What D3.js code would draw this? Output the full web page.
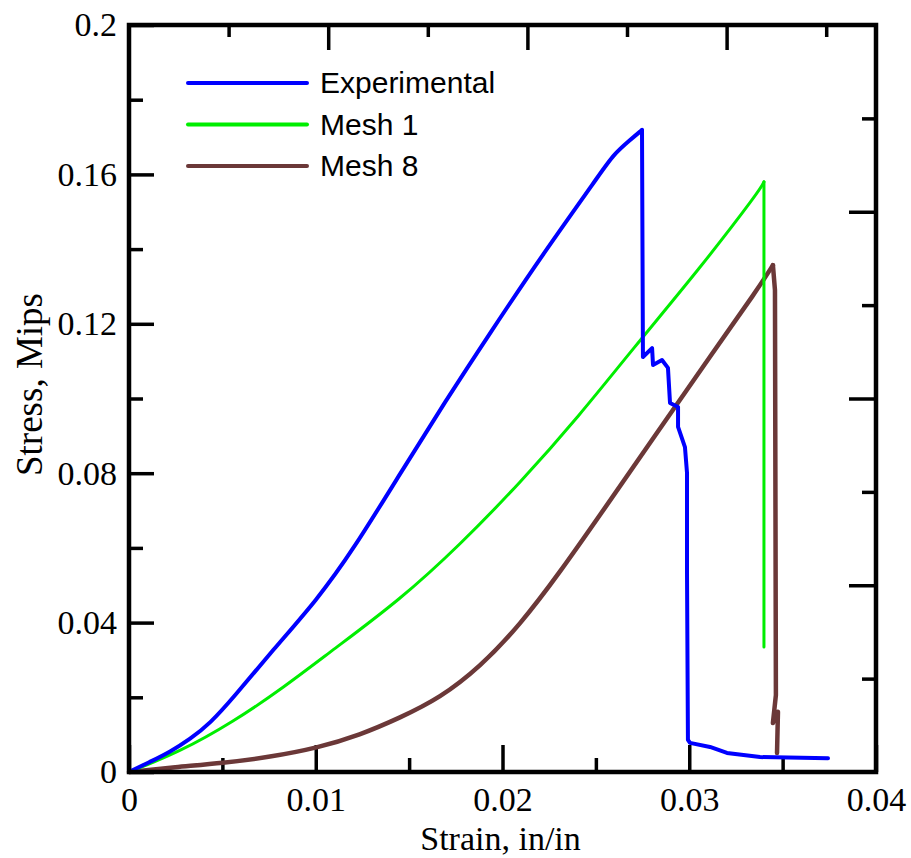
<!DOCTYPE html>
<html>
<head>
<meta charset="utf-8">
<script src="https://cdn.jsdelivr.net/npm/d3@7/dist/d3.min.js"></script>
<style>
  html, body { margin: 0; padding: 0; background: #fff; }
  svg { display: block; }
</style>
</head>
<body>
<svg id="chart" width="911" height="858"></svg>
<script>
// Stress-strain curves: strain (in/in) vs stress (Mips)
const expStrain = [0, 0.00112, 0.00220, 0.00327, 0.00434, 0.00557, 0.00771, 0.01007, 0.01199, 0.01451,
  0.01692, 0.01933, 0.02201, 0.02522, 0.02592, 0.02683, 0.02747, 0.02752, 0.02801, 0.02806, 0.02854,
  0.02886, 0.02897, 0.02940, 0.02940, 0.02977, 0.02988, 0.02988, 0.02993, 0.03004, 0.03111, 0.03202,
  0.03379, 0.03743];
const expStress = [0, 0.0027, 0.0054, 0.0088, 0.0130, 0.0198, 0.0327, 0.0461, 0.0594, 0.0798,
  0.0991, 0.1175, 0.1376, 0.1601, 0.1652, 0.1692, 0.1719, 0.1111, 0.1135, 0.1090, 0.1103,
  0.1082, 0.0988, 0.0977, 0.0924, 0.0870, 0.0801, 0.0533, 0.0086, 0.0078, 0.0067, 0.0051,
  0.0040, 0.0037];

const mesh1Strain = [0, 0.00273, 0.00557, 0.00825, 0.01092, 0.01451, 0.01772, 0.02094, 0.02415,
  0.02693, 0.03058, 0.03379, 0.03400, 0.03400];
const mesh1Stress = [0, 0.0054, 0.0134, 0.0225, 0.0327, 0.0461, 0.0608, 0.0774, 0.0956,
  0.1130, 0.1349, 0.1558, 0.1580, 0.0335];

const mesh8Strain = [0, 0.00246, 0.00503, 0.00755, 0.01007, 0.01237, 0.01451, 0.01665, 0.01880,
  0.02094, 0.02308, 0.02522, 0.02790, 0.03127, 0.03363, 0.03448, 0.03459, 0.03464, 0.03448,
  0.03475, 0.03470];
const mesh8Stress = [0, 0.0013, 0.0024, 0.0040, 0.0064, 0.0099, 0.0145, 0.0198, 0.0281,
  0.0394, 0.0535, 0.0688, 0.0881, 0.1124, 0.1290, 0.1357, 0.1290, 0.0206, 0.0131,
  0.0161, 0.0051];

const seriesNames = ["Experimental", "Mesh 1", "Mesh 8"];
const seriesColors = ["#0000ff", "#00ee00", "#6b3838"];
const seriesWidths = [4, 3, 4.5];

const xMajorTicks = [0, 0.01, 0.02, 0.03, 0.04];
const xTickLabels = ["0", "0.01", "0.02", "0.03", "0.04"];
const xMinorTicks = [0.005, 0.015, 0.025, 0.035];
const yMajorTicks = [0, 0.04, 0.08, 0.12, 0.16, 0.2];
const yTickLabels = ["0", "0.04", "0.08", "0.12", "0.16", "0.2"];
const yMinorTicks = [0.02, 0.06, 0.10, 0.14, 0.18];
// Secondary (unlabelled) scales on the top and right edges
const topTicks = [1, 2, 3, 4, 5, 6, 7];
const rightTicks = [1, 2, 3, 4, 5, 6, 7];

const svg = d3.select("#chart");
const L = 129, R = 876, T = 25, B = 772;

const x = d3.scaleLinear().domain([0, 0.04]).range([L, R]);
const y = d3.scaleLinear().domain([0, 0.2]).range([B, T]);
const xTop = d3.scaleLinear().domain([0, 7.5]).range([L, R]);
const yRight = d3.scaleLinear().domain([0, 8]).range([B, T]);

const serif = '"Liberation Serif", "Times New Roman", serif';

function styleAxis(g) {
  g.select(".domain").remove();
  g.attr("font-size", null).attr("font-family", null);
  g.selectAll(".tick line").attr("stroke", "#000").attr("stroke-width", 3.5);
  g.selectAll(".tick text").attr("fill", "#000")
    .style("font-size", "34px").style("font-family", serif);
}

// bottom axis
svg.append("g").attr("transform", `translate(0,${B})`)
  .call(d3.axisBottom(x).tickValues(xMajorTicks).tickFormat((d, i) => xTickLabels[i]).tickSizeInner(-27).tickSizeOuter(0).tickPadding(15))
  .call(styleAxis);
svg.append("g").attr("transform", `translate(0,${B})`)
  .call(d3.axisBottom(x).tickValues(xMinorTicks).tickFormat("").tickSizeInner(-14).tickSizeOuter(0))
  .call(styleAxis);

// left axis
svg.append("g").attr("transform", `translate(${L},0)`)
  .call(d3.axisLeft(y).tickValues(yMajorTicks).tickFormat((d, i) => yTickLabels[i]).tickSizeInner(-25).tickSizeOuter(0).tickPadding(12))
  .call(styleAxis);
svg.append("g").attr("transform", `translate(${L},0)`)
  .call(d3.axisLeft(y).tickValues(yMinorTicks).tickFormat("").tickSizeInner(-14).tickSizeOuter(0))
  .call(styleAxis);

// top axis
svg.append("g").attr("transform", `translate(0,${T})`)
  .call(d3.axisTop(xTop).tickValues(topTicks.filter(d => d % 2 === 0)).tickFormat("").tickSizeInner(-25).tickSizeOuter(0))
  .call(styleAxis);
svg.append("g").attr("transform", `translate(0,${T})`)
  .call(d3.axisTop(xTop).tickValues(topTicks.filter(d => d % 2 === 1)).tickFormat("").tickSizeInner(-12).tickSizeOuter(0))
  .call(styleAxis);

// right axis
svg.append("g").attr("transform", `translate(${R},0)`)
  .call(d3.axisRight(yRight).tickValues(rightTicks.filter(d => d % 2 === 0)).tickFormat("").tickSizeInner(-27).tickSizeOuter(0))
  .call(styleAxis);
svg.append("g").attr("transform", `translate(${R},0)`)
  .call(d3.axisRight(yRight).tickValues(rightTicks.filter(d => d % 2 === 1)).tickFormat("").tickSizeInner(-14).tickSizeOuter(0))
  .call(styleAxis);

// curves: smoothed rising branch up to the peak, straight segments after failure
const smoothLine = d3.line().x(d => x(d[0])).y(d => y(d[1])).curve(d3.curveBasis);
const straightLine = d3.line().x(d => x(d[0])).y(d => y(d[1]));
const curves = [
  d3.zip(expStrain, expStress),
  d3.zip(mesh1Strain, mesh1Stress),
  d3.zip(mesh8Strain, mesh8Stress)
];
[2, 1, 0].forEach(i => {
  const pts = curves[i];
  const peak = d3.maxIndex(pts, d => d[1]);
  const g = svg.append("g")
    .attr("fill", "none")
    .attr("stroke", seriesColors[i])
    .attr("stroke-width", seriesWidths[i])
    .attr("stroke-linejoin", "round")
    .attr("stroke-linecap", "round");
  g.append("path").attr("d", smoothLine(pts.slice(0, peak + 1)));
  g.append("path").attr("d", straightLine(pts.slice(peak)));
});

// frame
svg.append("rect")
  .attr("x", L).attr("y", T).attr("width", R - L).attr("height", B - T)
  .attr("fill", "none").attr("stroke", "#000").attr("stroke-width", 4.5);

// legend
const legend = svg.append("g");
seriesNames.forEach((name, i) => {
  const ly = 83 + i * 41.5;
  legend.append("line")
    .attr("x1", 188).attr("x2", 307).attr("y1", ly).attr("y2", ly)
    .attr("stroke", seriesColors[i]).attr("stroke-width", 4).attr("stroke-linecap", "round");
  legend.append("text")
    .attr("x", 320).attr("y", ly + 10)
    .style("font-family", '"Liberation Sans", Arial, sans-serif')
    .style("font-size", "30px")
    .attr("fill", "#000")
    .text(name);
});

// axis titles
svg.append("text")
  .attr("x", (L + R) / 2 - 2).attr("y", 850)
  .attr("text-anchor", "middle")
  .style("font-family", serif).style("font-size", "34px")
  .text("Strain, in/in");
svg.append("text")
  .attr("transform", `translate(42,${(T + B) / 2 - 14}) rotate(-90)`)
  .attr("text-anchor", "middle")
  .style("font-family", serif).style("font-size", "37px")
  .text("Stress, Mips");
</script>
</body>
</html>
